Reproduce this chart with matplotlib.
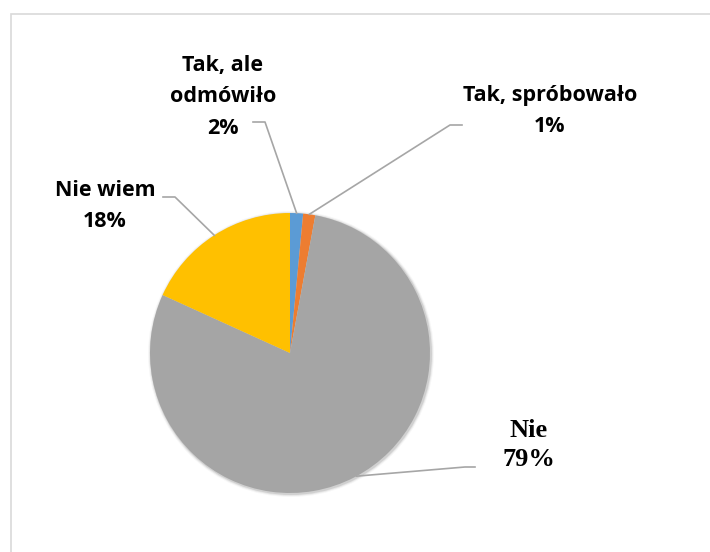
import numpy as np
import matplotlib
matplotlib.use("Agg")
import matplotlib.pyplot as plt
from matplotlib.patches import Rectangle, Circle

categories = ["Tak, ale\nodmówiło", "Tak, spróbowało", "Nie", "Nie wiem"]
values = [1.5, 1.4, 78.9, 18.2]
pct_labels = ["2%", "1%", "79%", "18%"]
colors = ["#5B9BD5", "#ED7D31", "#A5A5A5", "#FFC000"]

W, H = 710, 552
fig = plt.figure(figsize=(W / 100, H / 100), dpi=100)
ax = fig.add_axes([0, 0, 1, 1])

# chart border
ax.add_patch(Rectangle((10.5, -5), 720, H - 13.5 + 5, fill=False, edgecolor="#D9D9D9", lw=1.2))

cx, cy, r = 290, H - 353, 140
# soft shadow
for i, al in enumerate([0.10, 0.06, 0.03]):
    ax.add_patch(Circle((cx + 1, cy - 1), r + 1 + i, color="black", alpha=al, lw=0))
wedges, _ = ax.pie(values, colors=colors, startangle=90, counterclock=False,
                   center=(cx, cy), radius=r, frame=True,
                   wedgeprops=dict(linewidth=0))
ax.set_xlim(0, W)
ax.set_ylim(0, H)
ax.set_aspect("equal")
ax.axis("off")

sans = dict(family=["Open Sans", "DejaVu Sans"], fontweight="bold", fontsize=15.5, color="black")
serif = dict(family=["Liberation Serif", "DejaVu Serif"], fontweight="bold", fontsize=19, color="black")

def edge_point(w, frac=0.5):
    a = np.deg2rad(w.theta1 + (w.theta2 - w.theta1) * frac)
    return cx + r * np.cos(a), cy + r * np.sin(a)

lc = "#A6A6A6"
# blue
x0, y0 = edge_point(wedges[0])
ax.plot([x0, 265, 253], [y0, H - 122, H - 122], color=lc, lw=1.2)
ax.text(223, H - 97, categories[0] + "\n" + pct_labels[0], ha="center", va="center",
        linespacing=1.65, **sans)
# orange
x0, y0 = edge_point(wedges[1])
ax.plot([x0, 450, 462], [y0, H - 125, H - 125], color=lc, lw=1.2)
ax.text(550, H - 111, categories[1] + "\n" + pct_labels[1], ha="center", va="center",
        linespacing=1.65, **sans)
# yellow
x0, y0 = edge_point(wedges[3], 0.5)
ax.plot([x0, 175, 163], [y0, H - 197, H - 197], color=lc, lw=1.2)
ax.text(105, H - 206, categories[3] + "\n" + pct_labels[3], ha="center", va="center",
        linespacing=1.65, **sans)
# gray
ag = np.deg2rad(-61.6)
ax.plot([cx + r * np.cos(ag), 465, 475], [cy + r * np.sin(ag), H - 467, H - 467],
        color=lc, lw=1.2)
ax.text(529, H - 445, categories[2] + "\n" + pct_labels[2], ha="center", va="center",
        linespacing=1.37, **serif)

fig.savefig("out.png", dpi=100, facecolor="white")
